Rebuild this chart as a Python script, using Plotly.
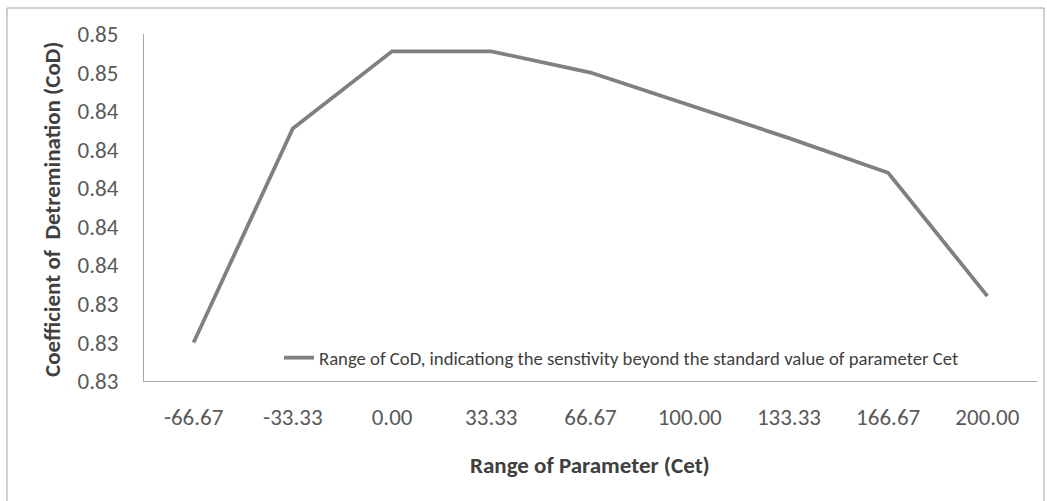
import plotly.graph_objects as go

# Parameter range (percent change of Cet) and resulting coefficient of determination
param_range = ["-66.67", "-33.33", "0.00", "33.33", "66.67", "100.00", "133.33", "166.67", "200.00"]
cod_values = [0.8320, 0.8431, 0.8471, 0.8471, 0.8460, 0.8443, 0.8426, 0.8408, 0.8344]

series_name = "Range of CoD, indicationg the senstivity beyond the standard value of parameter Cet"
x_title = "Range of Parameter (Cet)"
y_title = "Coefficient of  Detremination (CoD)"

FONT = "Carlito, Lato, 'Liberation Sans', sans-serif"
TXT = "#404040"

fig = go.Figure()
fig.add_trace(go.Scatter(
    x=param_range, y=cod_values, mode="lines", name=series_name,
    line=dict(color="#808080", width=3.8),
))

L, R, T, B = 144, 10, 34, 120
W, H = 1047, 501
pw, ph = W - L - R, H - T - B

def px_x(p):
    return (p - L) / pw

def px_y(p):
    return (H - B - p) / ph

fig.update_layout(
    width=W, height=H,
    margin=dict(l=L, r=R, t=T, b=B, autoexpand=False),
    paper_bgcolor="white", plot_bgcolor="white",
    font=dict(family=FONT, size=23, color="#595959"),
    showlegend=True,
    legend=dict(
        x=px_x(279), y=px_y(358), xanchor="left", yanchor="middle",
        bgcolor="rgba(0,0,0,0)", font=dict(size=18.7, color=TXT),
    ),
    xaxis=dict(
        type="category", range=[-0.5, len(param_range) - 0.5],
        showline=True, linecolor="#a6a6a6", linewidth=1,
        showgrid=False, ticks="", ticklabelstandoff=15,
        tickfont=dict(size=23, color="#595959"),
    ),
    yaxis=dict(
        range=[0.830, 0.848], dtick=0.002, tick0=0.830, tickformat=".2f",
        showline=True, linecolor="#a6a6a6", linewidth=1,
        showgrid=False, ticks="", ticklabelstandoff=20, zeroline=False,
        tickfont=dict(size=23, color="#595959"),
    ),
    shapes=[dict(
        type="rect", xref="paper", yref="paper",
        x0=px_x(7), x1=px_x(1044), y0=px_y(510), y1=px_y(8),
        line=dict(color="#a0a0a0", width=1), fillcolor="rgba(0,0,0,0)", layer="below",
    )],
    annotations=[
        dict(text="<b>" + x_title + "</b>", xref="paper", yref="paper",
             x=px_x(590), y=px_y(465), xanchor="center", yanchor="middle",
             showarrow=False, font=dict(size=23, color=TXT)),
        dict(text="<b>" + y_title + "</b>", xref="paper", yref="paper",
             x=px_x(52), y=px_y(210), xanchor="center", yanchor="middle",
             showarrow=False, textangle=-90, font=dict(size=23, color=TXT)),
    ],
)

fig.write_html("out.html")
